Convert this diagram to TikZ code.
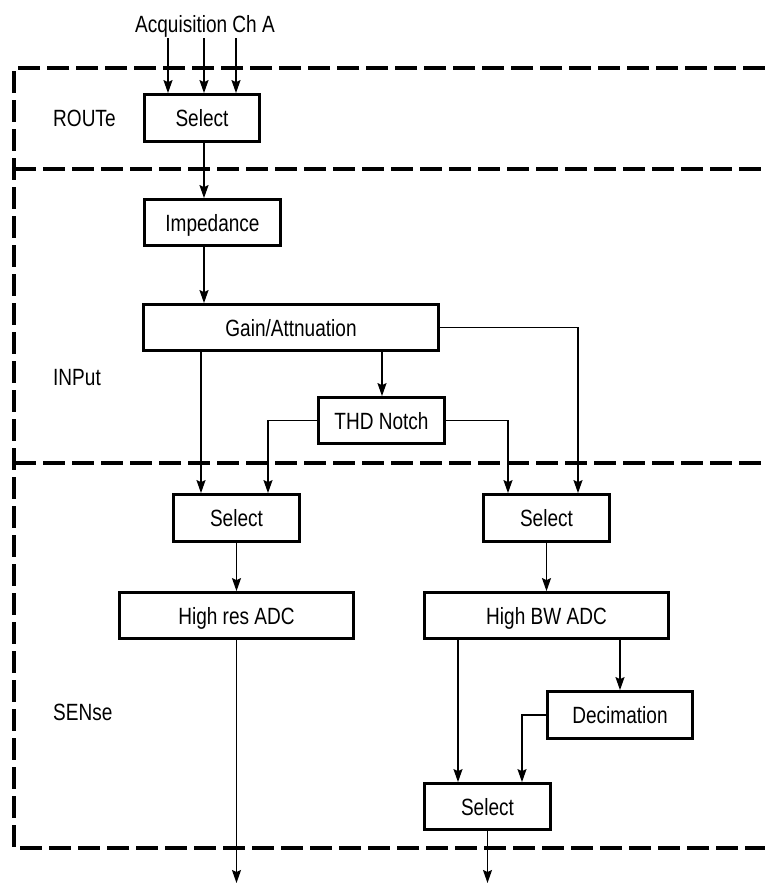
\documentclass[tikz,border=0pt]{standalone}
\usepackage{fontspec}
\setmainfont[FakeStretch=0.81]{Liberation Sans}
\usetikzlibrary{arrows.meta}
\begin{document}
\begin{tikzpicture}[x=1pt,y=-1pt,
  txt/.style={font=\fontsize{23.5}{26}\selectfont},
  box/.style={txt,draw,line width=2.8pt,rectangle,inner sep=0pt,text height=17pt,text depth=0pt},
  lbl/.style={txt,anchor=base west,inner sep=0pt},
  arr/.style={line width=1.4pt,-{Stealth[length=13pt,width=9pt,inset=2pt]}},
  dashline/.style={line width=3.2pt,dash pattern=on 22pt off 7pt}]
\useasboundingbox (0,0) rectangle (765,884);
% dashed frames
\draw[dashline] (765,68) -- (14,68) -- (14,848) -- (765,848);
\draw[dashline] (14,169) -- (765,169);
\draw[dashline] (14,463) -- (765,463);
% labels
\node[lbl] (route) at (53,126) {ROUTe};
\node[lbl] (input) at (53,385.5) {INPut};
\node[lbl] (sense) at (53,720) {SENse};
\node[txt,anchor=base,inner sep=0pt] (acq) at (205,32) {Acquisition Ch A};
% boxes
\node[box,minimum width=115pt,minimum height=47pt] (sel) at (202,118) {Select};
\node[box,minimum width=136pt,minimum height=46pt] (imp) at (212.5,222.5) {Impedance};
\node[box,minimum width=295pt,minimum height=46pt] (gain) at (291,327.5) {Gain/Attnuation};
\node[box,minimum width=126pt,minimum height=46pt] (thd) at (381.5,420.5) {THD Notch};
\node[box,minimum width=126pt,minimum height=47pt] (selL) at (236.5,518) {Select};
\node[box,minimum width=126pt,minimum height=47pt] (selR) at (546.5,518) {Select};
\node[box,minimum width=234pt,minimum height=46pt] (hires) at (236.5,615.5) {High res ADC};
\node[box,minimum width=244pt,minimum height=46pt] (hibw) at (546.5,615.5) {High BW ADC};
\node[box,minimum width=145pt,minimum height=47pt] (dec) at (620,715) {Decimation};
\node[box,minimum width=126pt,minimum height=46pt] (selB) at (487.5,806.5) {Select};
% free ends
\coordinate (a1) at (168,38);
\coordinate (a2) at (204,38);
\coordinate (a3) at (236,38);
\coordinate (o1) at (236.5,883);
\coordinate (o2) at (487.5,883);
% connectors
\draw[arr] (a1) -- (a1 |- sel.north);
\draw[arr] (a2) -- (a2 |- sel.north);
\draw[arr] (a3) -- (a3 |- sel.north);
\draw[arr] (a2 |- sel.south) -- (a2 |- imp.north);
\draw[arr] (a2 |- imp.south) -- (a2 |- gain.north);
\draw[arr] (201,0 |- gain.south) -- (201,0 |- selL.north);
\draw[arr] (382,0 |- gain.south) -- (382,0 |- thd.north);
\draw[arr] (thd.west) -| (268,0 |- selL.north);
\draw[arr] (thd.east) -| (508,0 |- selR.north);
\draw[arr] (gain.east) -| (578,0 |- selR.north);
\draw[arr] (selL.south) -- (hires.north);
\draw[arr] (hires.south) -- (o1);
\draw[arr] (selR.south) -- (hibw.north);
\draw[arr] (458,0 |- hibw.south) -- (458,0 |- selB.north);
\draw[arr] (dec.north |- hibw.south) -- (dec.north);
\draw[arr] (dec.west) -| (522,0 |- selB.north);
\draw[arr] (selB.south) -- (o2);
\end{tikzpicture}
\end{document}
